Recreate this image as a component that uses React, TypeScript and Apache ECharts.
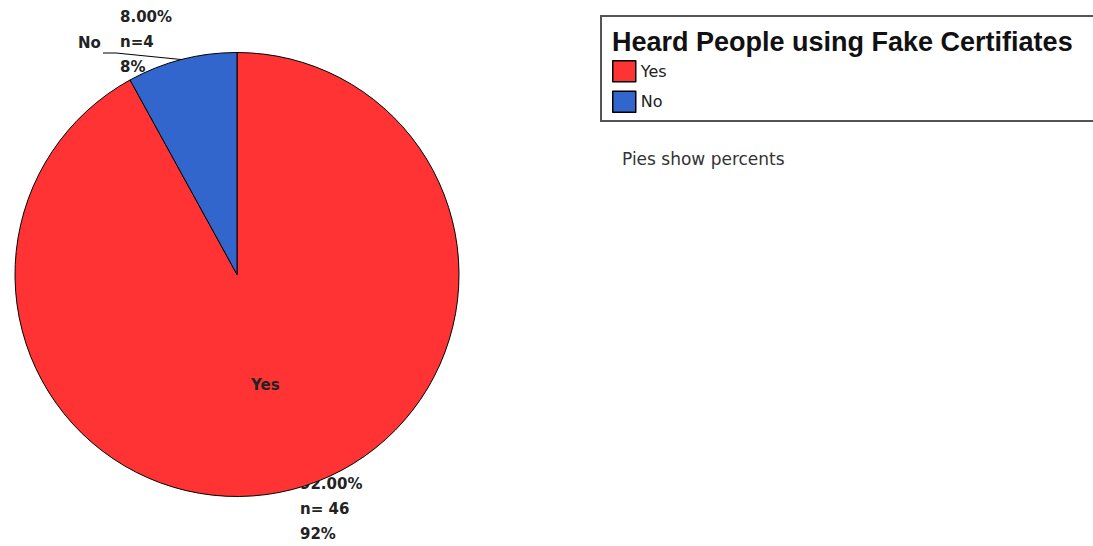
import React, { useEffect, useRef } from "react";
import * as echarts from "echarts";

const categories = ["Yes", "No"];
const counts = [46, 4];
const colors = ["#FF3333", "#3366CC"];
const titleText = "Heard People using Fake Certifiates";
const noteText = "Pies show percents";

const LF = "DejaVu Sans, Verdana, sans-serif";

export default function App() {
  const ref = useRef<HTMLDivElement>(null);
  useEffect(() => {
    document.body.style.margin = "0";
    if (!ref.current) return;
    const chart = echarts.init(ref.current, undefined, { renderer: "svg" });
    const total = counts.reduce((a, b) => a + b, 0);
    const pct = counts.map((c) => (c / total) * 100);
    const yesIdx = 0;
    const noIdx = 1;
    const lblFont = `bold 15px ${LF}`;
    chart.setOption({
      animation: false,
      backgroundColor: "#ffffff",
      title: {
        text: titleText,
        left: 612,
        top: 28,
        padding: 0,
        textStyle: { fontFamily: "Liberation Sans, Arial, sans-serif", fontSize: 27, fontWeight: "bold", color: "#111" },
      },
      legend: {
        orient: "vertical",
        left: 612,
        top: 60,
        padding: 0,
        itemWidth: 23,
        itemHeight: 21,
        itemGap: 8,
        icon: "rect",
        data: categories,
        textStyle: { fontFamily: LF, fontSize: 16, color: "#222", lineHeight: 21 },
        itemStyle: { borderColor: "#000", borderWidth: 1.5 },
      },
      series: [
        {
          type: "pie",
          center: [237, 274.5],
          radius: 222,
          startAngle: 90,
          clockwise: true,
          data: categories.map((n, i) => ({ name: n, value: counts[i], itemStyle: { color: colors[i] } })),
          itemStyle: { borderColor: "#000", borderWidth: 1 },
          label: {
            position: "inner",
            fontFamily: LF,
            fontSize: 15,
            fontWeight: "bold",
            color: "#222",
            formatter: (p: any) => (p.dataIndex === yesIdx ? p.name : ""),
          },
          labelLine: { show: false },
          emphasis: { disabled: true },
        },
      ],
      graphic: [
        {
          type: "rect",
          shape: { x: 601, y: 16, width: 520, height: 105 },
          style: { fill: "none", stroke: "#555", lineWidth: 2 },
        },
        {
          type: "text",
          x: 622,
          y: 159,
          style: { text: noteText, font: `17px ${LF}`, fill: "#333", verticalAlign: "middle" },
        },
        {
          type: "text",
          x: 300,
          y: 471.5,
          style: {
            text: `${pct[yesIdx].toFixed(2)}%\nn= ${counts[yesIdx]}\n${Math.round(pct[yesIdx])}%`,
            font: lblFont,
            fill: "#222",
            lineHeight: 25,
            verticalAlign: "top",
          },
        },
        {
          type: "text",
          x: 120,
          y: 4.5,
          style: {
            text: `${pct[noIdx].toFixed(2)}%\nn=${counts[noIdx]}\n${Math.round(pct[noIdx])}%`,
            font: lblFont,
            fill: "#222",
            lineHeight: 25,
            verticalAlign: "top",
          },
        },
        {
          type: "text",
          x: 78,
          y: 43,
          style: { text: categories[noIdx], font: lblFont, fill: "#222", verticalAlign: "middle" },
        },
        {
          type: "polyline",
          shape: { points: [[103, 53], [116, 53], [186, 60]] },
          style: { stroke: "#000", lineWidth: 1, fill: "none" },
        },
      ],
    });
    return () => chart.dispose();
  }, []);
  return <div ref={ref} style={{ width: 1093, height: 546 }} />;
}
